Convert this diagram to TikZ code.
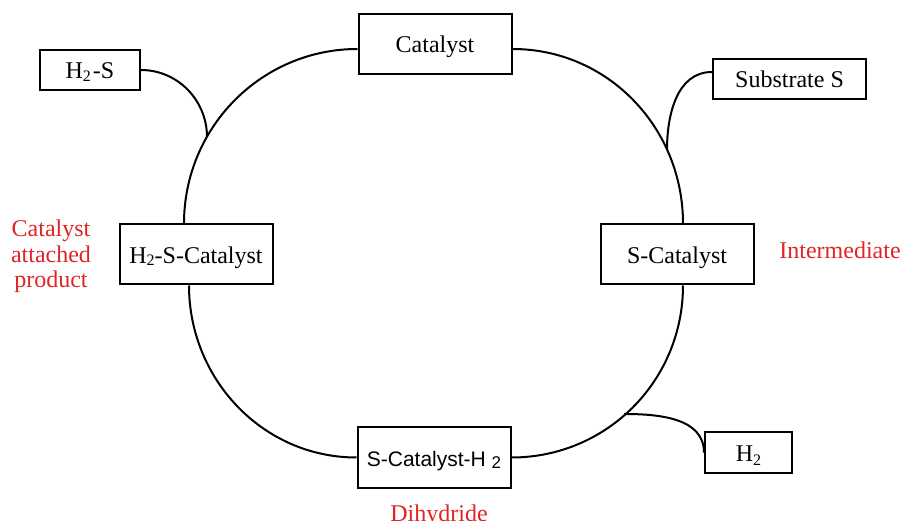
\documentclass[tikz,border=0pt]{standalone}
\usepackage{fontspec}
\setmainfont{Liberation Serif}
\newfontfamily\sansf{Liberation Sans}
\definecolor{labred}{RGB}{222,36,36}
\newcommand\subtwo[2]{\raisebox{-#1pt}{\fontsize{#2}{#2}\selectfont 2}}
\begin{document}
\begin{tikzpicture}[x=1pt,y=1pt,
  box/.style={draw, line width=2pt, inner sep=0pt, text height=18pt, text depth=0pt,
              font=\fontsize{24}{28}\selectfont},
  bigbox/.style={box, minimum width=153pt, minimum height=60pt},
  lab/.style={text=labred, font=\fontsize{24}{28}\selectfont, anchor=base, inner sep=0pt},
  link/.style={line width=2pt}]
\useasboundingbox (0,0) rectangle (903,-521);

% boxes
\node[bigbox] (cat) at (435,-44) {Catalyst};
\node[box, minimum width=100pt, minimum height=40pt] (h2s) at (90,-70) {H\subtwo{3}{16}\hspace{2pt}-S};
\node[box, minimum width=153pt, minimum height=40pt] (subs) at (789.5,-79) {Substrate S};
\node[bigbox] (h2sc) at (196,-254.5) {H\subtwo{2}{16}-S-Catalyst};
\node[bigbox] (sc) at (677,-254.5) {S-Catalyst};
\node[bigbox, font=\sansf\fontsize{21}{25}\selectfont] (sch2) at (434,-457.5) {S-Catalyst-H \subtwo{2}{17}};
\node[box, minimum width=87pt, minimum height=41pt] (h2) at (748.5,-452.5) {H\subtwo{4}{16}};

% cycle
\draw[link] ([yshift=-5pt]cat.west) to[out=180,in=90] ([xshift=-12pt]h2sc.north);
\draw[link] ([yshift=-5pt]cat.east) to[out=0,in=90] ([xshift=6pt]sc.north);
\draw[link] ([xshift=6pt]sc.south) to[out=-90,in=0] (sch2.east);
\draw[link] ([xshift=-7pt]h2sc.south) to[out=-90,in=180] (sch2.west);

% branches
\coordinate (j1) at (207,-137);
\coordinate (j2) at (667,-150);
\coordinate (j3) at (624,-414);
\draw[link] (h2s.east) to[out=0,in=90] (j1);
\draw[link] ([yshift=7pt]subs.west) to[out=180,in=90] (j2);
\draw[link] (h2.west) to[out=90,in=0] (j3);

% labels
\node[lab] (l1) at (51,-237) {Catalyst};
\node[lab] (l2) at (51,-262.5) {attached};
\node[lab] (l3) at (51,-288) {product};
\node[lab] (inter) at (840,-259) {Intermediate};
\node[lab] (dihy) at (439,-521) {Dihydride};
\end{tikzpicture}
\end{document}
